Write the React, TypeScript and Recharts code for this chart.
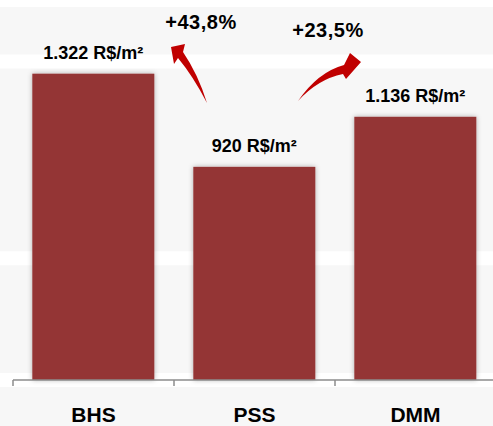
import React from "react";
import {
  BarChart,
  Bar,
  XAxis,
  YAxis,
  CartesianGrid,
  LabelList,
} from "recharts";

// price per m² by region
const regions = ["BHS", "PSS", "DMM"];
const pricePerM2 = [1322, 920, 1136];
const growthLabels = ["+43,8%", "+23,5%"];
const gridTicks = [525, 1375];

const data = regions.map((name, i) => ({ name, value: pricePerM2[i] }));

const CHART_W = 500;
const CHART_H = 426;
const MARGIN = { top: 0, right: 4, left: 13, bottom: 0 };
const BAND = (CHART_W - MARGIN.left - MARGIN.right) / regions.length;

const BAR_COLOR = "#943634";
const ARROW_COLOR = "#c00000";
const BG = "#f7f7f7";
const FONT = "Arial, 'Liberation Sans', sans-serif";

const formatPrice = (v: number) =>
  String(v).replace(/\B(?=(\d{3})+(?!\d))/g, ".") + " R$/m²";

// category label plus a tick mark on the left edge of each band
const RegionTick = (props: any) => {
  const { x, y, payload } = props;
  return (
    <g>
      <line
        x1={x - BAND / 2}
        x2={x - BAND / 2}
        y1={y}
        y2={y + 6}
        stroke="#8c8c8c"
        strokeWidth={1.5}
      />
      <text
        x={x}
        y={y + 42}
        textAnchor="middle"
        fontFamily={FONT}
        fontWeight="bold"
        fontSize={21}
        fill="#000"
      >
        {payload.value}
      </text>
    </g>
  );
};

const ShadowBar = (props: any) => {
  const { x, y, width, height } = props;
  return (
    <rect
      x={x}
      y={y}
      width={width}
      height={height}
      fill={BAR_COLOR}
      filter="url(#barShadow)"
    />
  );
};

export default function App() {
  return (
    <div
      style={{
        position: "fixed",
        left: 0,
        top: 0,
        width: 493,
        height: 426,
        overflow: "hidden",
        background: BG,
      }}
    >
      <BarChart
        width={CHART_W}
        height={CHART_H}
        data={data}
        margin={MARGIN}
        barCategoryGap="12%"
      >
        <defs>
          <filter id="barShadow" x="-10%" y="-10%" width="120%" height="120%">
            <feDropShadow
              dx="0"
              dy="0"
              stdDeviation="2.5"
              floodColor="#000"
              floodOpacity="0.3"
            />
          </filter>
        </defs>

        <CartesianGrid
          x={0}
          width={CHART_W}
          vertical={false}
          stroke="#ffffff"
          strokeWidth={14}
        />

        <XAxis
          dataKey="name"
          height={46}
          tickSize={0}
          tickMargin={0}
          tickLine={false}
          axisLine={{ stroke: "#8c8c8c", strokeWidth: 1.5 }}
          tick={<RegionTick />}
          interval={0}
        />

        <YAxis hide domain={[0, 1640]} ticks={gridTicks} />

        <Bar
          dataKey="value"
          isAnimationActive={false}
          shape={<ShadowBar />}
        >
          <LabelList
            dataKey="value"
            position="top"
            offset={15}
            formatter={(v: any) => formatPrice(Number(v))}
            fill="#000"
            fontSize={18}
            fontWeight="bold"
            fontFamily={FONT}
          />
        </Bar>
      </BarChart>

      {/* growth arrows between the bars */}
      <svg
        width={493}
        height={426}
        style={{ position: "absolute", left: 0, top: 0, pointerEvents: "none" }}
      >
        <path
          d="M 171 47 L 185 44 L 183 52 Q 198 74 207 103 Q 193 76 178 58 L 174 64 Z"
          fill={ARROW_COLOR}
        />
        <path
          d="M 298 101 Q 318 72 344 65 L 350 53 L 361 62 L 346 79 L 343 74 Q 318 79 298 101 Z"
          fill={ARROW_COLOR}
        />
        <text
          x={201}
          y={29}
          textAnchor="middle"
          fontFamily={FONT}
          fontWeight="bold"
          fontSize={20}
          letterSpacing={0.5}
          fill="#000"
        >
          {growthLabels[0]}
        </text>
        <text
          x={328}
          y={37}
          textAnchor="middle"
          fontFamily={FONT}
          fontWeight="bold"
          fontSize={20}
          letterSpacing={0.5}
          fill="#000"
        >
          {growthLabels[1]}
        </text>
      </svg>
    </div>
  );
}
